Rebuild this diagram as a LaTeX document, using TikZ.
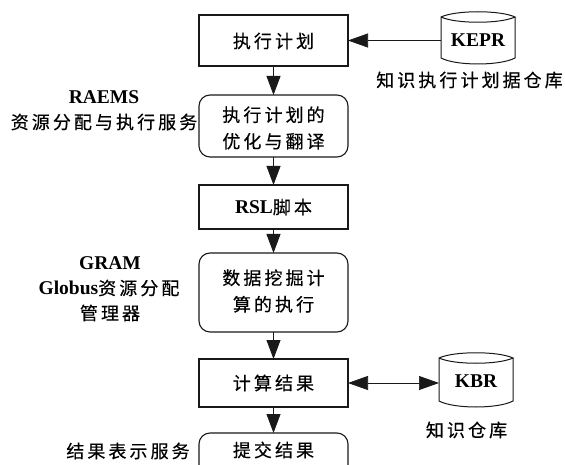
\documentclass[tikz,border=0pt]{standalone}
\usepackage{fontspec}
\setmainfont{Liberation Serif}[BoldFont=Liberation Serif Bold]
\newfontfamily\cjk[LetterSpace=17,FakeBold=0.3]{Noto Sans CJK SC}
\usetikzlibrary{arrows.meta}
\newcommand{\lat}[1]{{\normalfont\fontsize{19.5}{20}\selectfont\bfseries #1}}
\tikzset{
  x=1pt,y=-1pt,
  every node/.style={inner sep=0pt,outer sep=0pt,align=center,font=\fontsize{18}{26.5}\selectfont\cjk,text=black},
  sqbox/.style={draw=black!90,line width=1.1pt,minimum width=149pt},
  rdbox/.style={sqbox,rounded corners=11pt},
  drum/.style={minimum width=74pt},
  drumline/.style={draw=black!90,line width=1pt},
  flow/.style={line width=0.9pt,draw=black!90,-{Triangle[length=19pt,width=14pt]}},
  link/.style={line width=0.7pt,draw=black!90}
}
\begin{document}
\begin{tikzpicture}
\useasboundingbox (0,0) rectangle (565,465);
\clip (0,0) rectangle (565,465);
\node[sqbox,minimum height=51pt] (plan) at (273.5,40.5) {};
\node[rdbox,minimum height=62pt] (opt) at (273.5,126) {};
\node[sqbox,minimum height=44pt] (rsl) at (273.5,207) {};
\node[rdbox,minimum height=79pt] (run) at (273.5,292.5) {};
\node[sqbox,minimum height=48pt] (res) at (273.5,383) {};
\node[rdbox,minimum height=60pt] (sub) at (273.5,463) {};
\node (plant) at (273.5,41) {执行计划};
\node (optt) at (273.5,128) {执行计划的\\优化与翻译};
\node (rslt) at (273.5,207) {{\lat{RSL}}脚本};
\node (runt) at (273.5,291) {数据挖掘计\\算的执行};
\node (rest) at (273.5,383) {计算结果};
\node (subt) at (273.5,450) {提交结果};
\node[drum,minimum height=41pt] (kepr) at (478,37.5) {};
\node[drum,minimum height=43pt] (kbr) at (476,379.5) {};
\node (keprt) at (478,40) {\lat{KEPR}};
\node (kbrt) at (476,381) {\lat{KBR}};
\draw[drumline] (kepr.north west) .. controls +(15,-7) and +(-15,-7) .. (kepr.north east) .. controls +(-15,7) and +(15,7) .. (kepr.north west) -- (kepr.south west) .. controls +(15,8) and +(-15,8) .. (kepr.south east) -- (kepr.north east);
\draw[drumline] (kbr.north west) .. controls +(15,-7) and +(-15,-7) .. (kbr.north east) .. controls +(-15,7) and +(15,7) .. (kbr.north west) -- (kbr.south west) .. controls +(15,8) and +(-15,8) .. (kbr.south east) -- (kbr.north east);
\node (c1) at (469.5,80) {知识执行计划据仓库};
\node (c2) at (466.5,430) {知识仓库};
\node (l1) at (104,97) {\lat{RAEMS}};
\node (l2) at (104,122) {资源分配与执行服务};
\node (l3) at (110,263) {\lat{GRAM}};
\node (l4) at (109,288) {\lat{Globus}资源分配};
\node (l5) at (110,313) {管理器};
\node (l6) at (128,451) {结果表示服务};
\draw[flow] (plan) -- (opt);
\draw[flow] (opt) -- (rsl);
\draw[flow] (rsl) -- (run);
\draw[flow] (run) -- (res);
\draw[flow] (res) -- (sub);
\draw[link,-{Triangle[length=20pt,width=14pt]}] (kepr.west|-plan.east) -- (plan.east);
\draw[link,{Triangle[length=20pt,width=14pt]}-{Triangle[length=20pt,width=14pt]}] (res.east) -- (kbr.west|-res.east);
\end{tikzpicture}
\end{document}
